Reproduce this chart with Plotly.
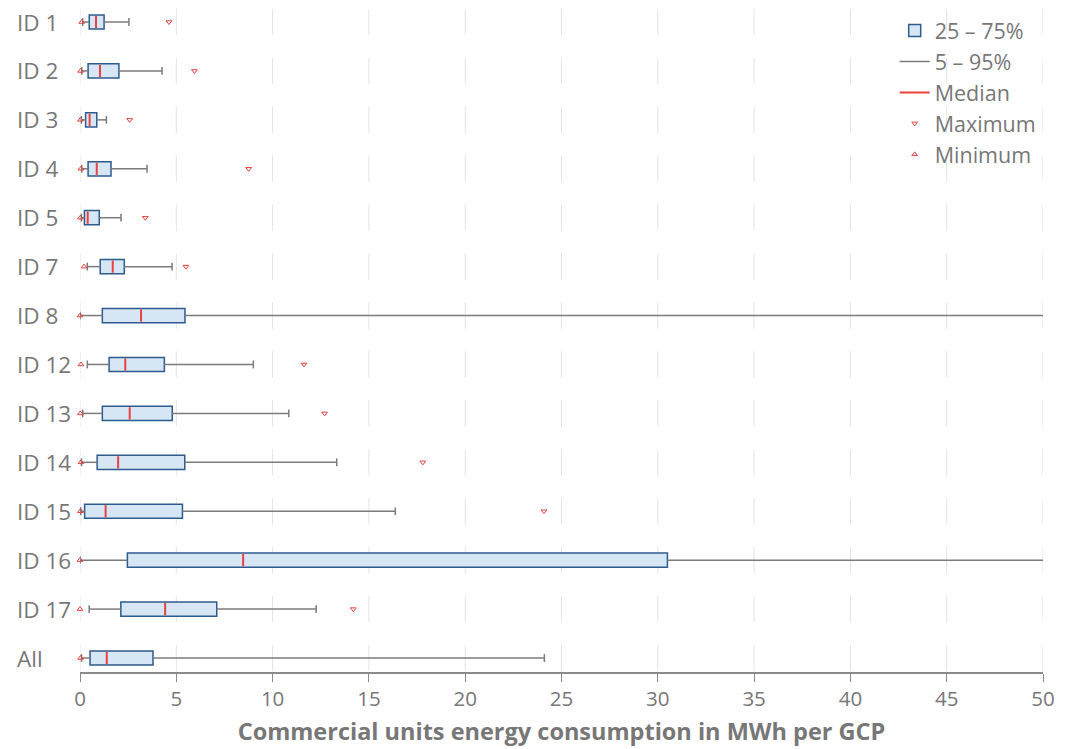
import plotly.graph_objects as go

categories = ["ID 1", "ID 2", "ID 3", "ID 4", "ID 5", "ID 7", "ID 8", "ID 12",
              "ID 13", "ID 14", "ID 15", "ID 16", "ID 17", "All"]
minimum = [0.09, 0.03, 0.02, 0.05, 0.02, 0.21, 0.0, 0.05, 0.02, 0.05, 0.02, 0.0, 0.0, 0.03]
p5 = [0.14, 0.09, 0.07, 0.09, 0.07, 0.38, 0.0, 0.38, 0.14, 0.08, 0.04, 0.0, 0.48, 0.08]
q1 = [0.48, 0.42, 0.29, 0.42, 0.23, 1.05, 1.16, 1.51, 1.16, 0.89, 0.24, 2.46, 2.12, 0.52]
median = [0.83, 1.04, 0.50, 0.87, 0.40, 1.70, 3.17, 2.35, 2.58, 1.98, 1.33, 8.47, 4.42, 1.39]
q3 = [1.25, 2.02, 0.87, 1.61, 1.00, 2.30, 5.45, 4.38, 4.79, 5.44, 5.32, 30.5, 7.10, 3.79]
p95 = [2.54, 4.26, 1.37, 3.48, 2.13, 4.78, 58.0, 9.00, 10.84, 13.33, 16.37, 70.0, 12.26, 24.11]
maximum = [4.62, 5.94, 2.58, 8.76, 3.39, 5.50, 75.0, 11.63, 12.70, 17.80, 24.09, 95.0, 14.19, 80.0]
x_ticks = [0, 5, 10, 15, 20, 25, 30, 35, 40, 45, 50]

TXT = "#777777"
FONT = "Open Sans"
idx = list(range(len(categories)))
BOX_H = 0.29
CAP = 0.08

fig = go.Figure()

# 25-75% boxes
fig.add_trace(go.Bar(
    name="25 \u2013 75%", orientation="h", y=idx,
    base=q1, x=[b - a for a, b in zip(q1, q3)], width=BOX_H,
    marker=dict(color="#d6e6f5", line=dict(color="#2e5b8d", width=1.5)),
    hoverinfo="skip"))

# whiskers with caps
wx, wy = [], []
for i in idx:
    wx += [p5[i], q1[i], None, q3[i], p95[i], None,
           p5[i], p5[i], None, p95[i], p95[i], None]
    wy += [i, i, None, i, i, None,
           i - CAP, i + CAP, None, i - CAP, i + CAP, None]
fig.add_trace(go.Scatter(
    name="5 \u2013 95%", x=wx, y=wy, mode="lines",
    line=dict(color="#7b7b7b", width=1.5), hoverinfo="skip"))

# medians
mx, my = [], []
for i in idx:
    mx += [median[i], median[i], None]
    my += [i - BOX_H / 2 + 0.02, i + BOX_H / 2 - 0.02, None]
fig.add_trace(go.Scatter(
    name="Median", x=mx, y=my, mode="lines",
    line=dict(color="#e8413f", width=2), hoverinfo="skip"))

fig.add_trace(go.Scatter(
    name="Maximum", x=maximum, y=idx, mode="markers",
    marker=dict(symbol="triangle-down-open", size=5, color="#e8413f",
                line=dict(width=1)), hoverinfo="skip"))
fig.add_trace(go.Scatter(
    name="Minimum", x=minimum, y=idx, mode="markers", cliponaxis=False,
    marker=dict(symbol="triangle-up-open", size=5, color="#e8413f",
                line=dict(width=1)), hoverinfo="skip"))

# segmented grid lines per row
GH = 0.27
shapes = []
for i in idx:
    for t in x_ticks:
        shapes.append(dict(type="line", xref="x", yref="y", x0=t, x1=t,
                           y0=i - GH, y1=i + GH, layer="below",
                           line=dict(color="#e4e4e4", width=1)))

annotations = []
for i, c in enumerate(categories):
    annotations.append(dict(text=c, xref="paper", yref="y", x=-0.068, y=i,
                            xanchor="left", yanchor="middle", showarrow=False,
                            font=dict(size=22.5, color=TXT, family=FONT)))

fig.update_layout(
    width=1072, height=749,
    margin=dict(l=80, r=29, t=0, b=77),
    paper_bgcolor="white", plot_bgcolor="white",
    font=dict(family=FONT, color=TXT),
    barmode="overlay",
    showlegend=True,
    legend=dict(x=0.846, y=0.985, xanchor="left", yanchor="top",
                font=dict(size=21.5, color=TXT, family=FONT),
                bgcolor="rgba(0,0,0,0)", itemwidth=30, tracegroupgap=0),
    shapes=shapes, annotations=annotations,
    xaxis=dict(range=[0, 50], tickvals=x_ticks, ticks="outside", ticklen=8,
               tickcolor="#8a8a8a", showline=True, linecolor="#8a8a8a",
               linewidth=1.5, showgrid=False, zeroline=False,
               tickfont=dict(size=20.5, color=TXT, family=FONT),
               title=dict(text="<b>Commercial units energy consumption in MWh per GCP</b>",
                          font=dict(size=23.5, color=TXT, family=FONT), standoff=12)),
    yaxis=dict(range=[13.286, -0.45], showticklabels=False, showgrid=False,
               zeroline=False, showline=False, ticks=""),
)

fig.write_html("out.html")
